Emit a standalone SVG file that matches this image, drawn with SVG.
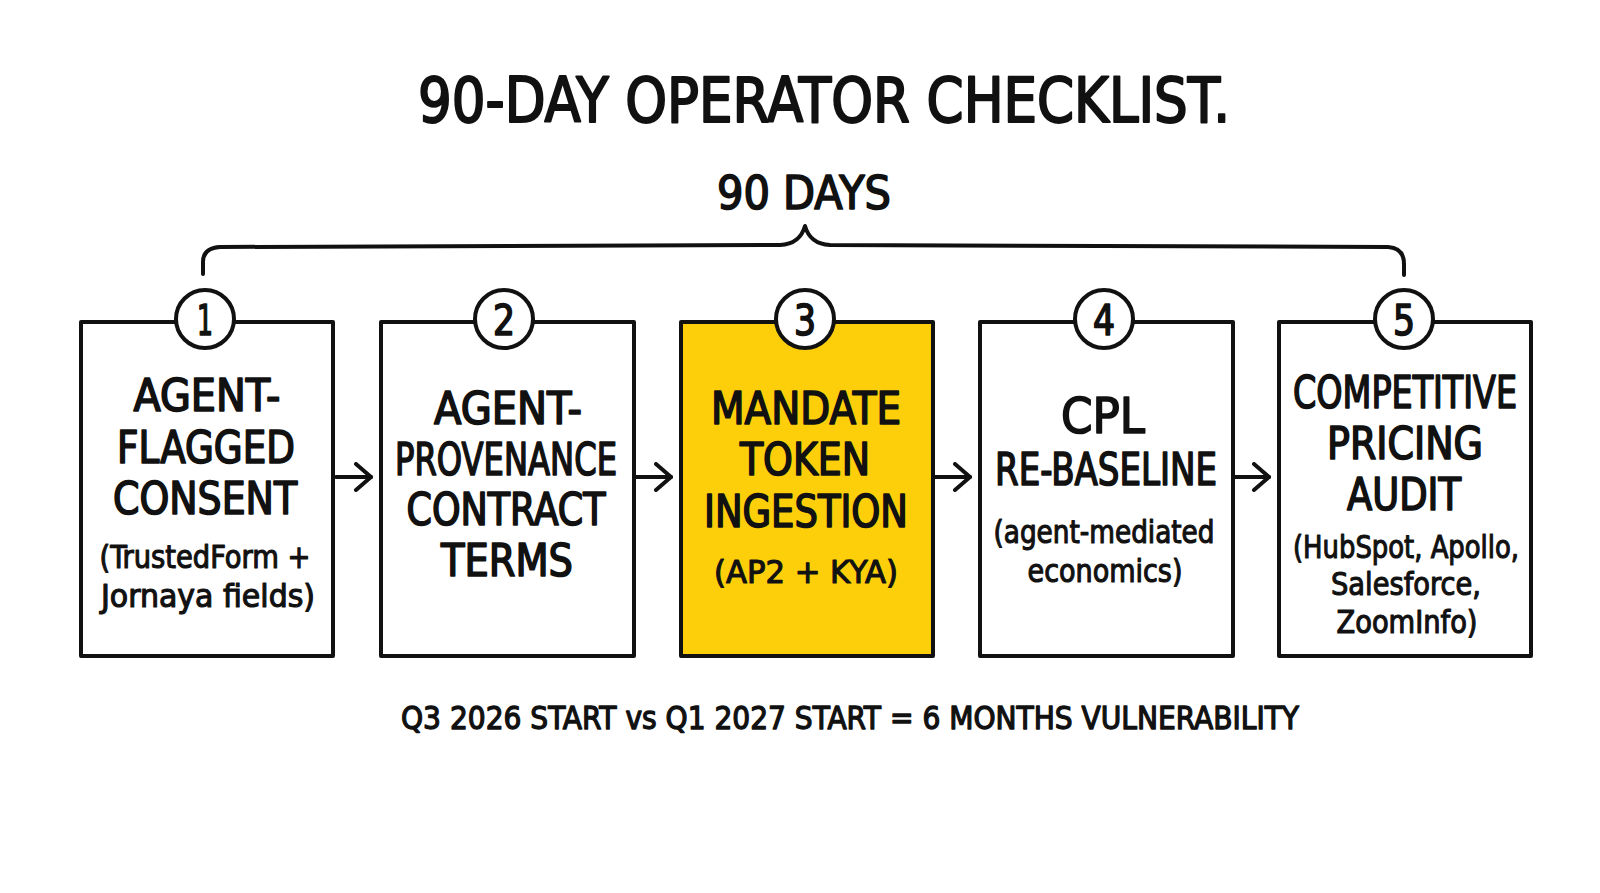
<svg xmlns="http://www.w3.org/2000/svg" width="1600" height="893" viewBox="0 0 1600 893">
<defs>
<style>
text{font-family:"Liberation Sans Narrow","DejaVu Sans Condensed","Liberation Sans",sans-serif;fill:#111;stroke:#111;stroke-width:1.3;stroke-linejoin:round;text-anchor:middle}
.title{font-size:62px;stroke-width:2}
.sub{font-size:46px;stroke-width:1.6}
.big{font-size:44px;stroke-width:1.6}
.small{font-size:32px;stroke-width:1.1}
.num{font-size:42px;stroke-width:1.6}
.note{font-size:32px;stroke-width:1.3}
.box{fill:#fff;stroke:#111;stroke-width:4;stroke-linejoin:round}
.hl{fill:#FDCF0B}
.badge{fill:#fff;stroke:#111;stroke-width:4}
.line{fill:none;stroke:#111;stroke-width:4;stroke-linecap:round;stroke-linejoin:round}
</style>
<marker id="arr" viewBox="0 0 20 30" refX="18" refY="15" markerWidth="20" markerHeight="30" markerUnits="userSpaceOnUse" orient="auto">
<path d="M3,2 L18,15 L3,28" fill="none" stroke="#111" stroke-width="4" stroke-linecap="round" stroke-linejoin="round"/>
</marker>
</defs>
<rect width="1600" height="893" fill="#fff"/>

<g id="title">
<text class="title" x="824" y="122" textLength="812" lengthAdjust="spacingAndGlyphs">90-DAY OPERATOR CHECKLIST.</text>
</g>

<g id="span">
<text class="sub" x="804" y="209" textLength="174" lengthAdjust="spacingAndGlyphs">90 DAYS</text>
<path class="line" d="M203,274 L203,262 Q203,248 220,247 L780,245 Q800,244 805,226 Q810,244 830,245 L1388,247 Q1404,248 1404,264 L1404,275"/>
</g>

<g id="connectors">
<path class="line" d="M336,477 L371,477" marker-end="url(#arr)"/>
<path class="line" d="M636,477 L671,477" marker-end="url(#arr)"/>
<path class="line" d="M935,477 L970,477" marker-end="url(#arr)"/>
<path class="line" d="M1235,477 L1269,477" marker-end="url(#arr)"/>
</g>

<g id="step1">
<rect class="box" x="81" y="322" width="252" height="334"/>
<circle class="badge" cx="205" cy="319" r="29"/>
<text class="num" x="205" y="335" textLength="16" lengthAdjust="spacingAndGlyphs">1</text>
<text class="big" x="207" y="411" textLength="147" lengthAdjust="spacingAndGlyphs">AGENT-</text>
<text class="big" x="206" y="463" textLength="178" lengthAdjust="spacingAndGlyphs">FLAGGED</text>
<text class="big" x="205" y="514" textLength="184" lengthAdjust="spacingAndGlyphs">CONSENT</text>
<text class="small" x="205" y="568" textLength="211" lengthAdjust="spacingAndGlyphs">(TrustedForm +</text>
<text class="small" x="208" y="607" textLength="214" lengthAdjust="spacingAndGlyphs">Jornaya fields)</text>
</g>

<g id="step2">
<rect class="box" x="381" y="322" width="253" height="334"/>
<circle class="badge" cx="504" cy="319" r="29"/>
<text class="num" x="504" y="335" textLength="22" lengthAdjust="spacingAndGlyphs">2</text>
<text class="big" x="508" y="424" textLength="148" lengthAdjust="spacingAndGlyphs">AGENT-</text>
<text class="big" x="506" y="475" textLength="222" lengthAdjust="spacingAndGlyphs">PROVENANCE</text>
<text class="big" x="506" y="525" textLength="199" lengthAdjust="spacingAndGlyphs">CONTRACT</text>
<text class="big" x="507" y="576" textLength="132" lengthAdjust="spacingAndGlyphs">TERMS</text>
</g>

<g id="step3">
<rect class="box hl" x="681" y="322" width="252" height="334"/>
<circle class="badge hl" cx="805" cy="319" r="29"/>
<text class="num" x="805" y="335" textLength="22" lengthAdjust="spacingAndGlyphs">3</text>
<text class="big" x="806" y="424" textLength="190" lengthAdjust="spacingAndGlyphs">MANDATE</text>
<text class="big" x="805" y="475" textLength="130" lengthAdjust="spacingAndGlyphs">TOKEN</text>
<text class="big" x="806" y="527" textLength="204" lengthAdjust="spacingAndGlyphs">INGESTION</text>
<text class="small" x="806" y="583" textLength="184" lengthAdjust="spacingAndGlyphs">(AP2 + KYA)</text>
</g>

<g id="step4">
<rect class="box" x="980" y="322" width="253" height="334"/>
<circle class="badge" cx="1104" cy="319" r="29"/>
<text class="num" x="1104" y="335" textLength="22" lengthAdjust="spacingAndGlyphs">4</text>
<text class="big" style="font-size:50px" x="1103" y="433" textLength="84" lengthAdjust="spacingAndGlyphs">CPL</text>
<text class="big" x="1106" y="485" textLength="222" lengthAdjust="spacingAndGlyphs">RE-BASELINE</text>
<text class="small" x="1104" y="543" textLength="221" lengthAdjust="spacingAndGlyphs">(agent-mediated</text>
<text class="small" x="1105" y="582" textLength="155" lengthAdjust="spacingAndGlyphs">economics)</text>
</g>

<g id="step5">
<rect class="box" x="1279" y="322" width="252" height="334"/>
<circle class="badge" cx="1404" cy="319" r="29"/>
<text class="num" x="1404" y="335" textLength="22" lengthAdjust="spacingAndGlyphs">5</text>
<text class="big" x="1405" y="408" textLength="224" lengthAdjust="spacingAndGlyphs">COMPETITIVE</text>
<text class="big" x="1405" y="459" textLength="156" lengthAdjust="spacingAndGlyphs">PRICING</text>
<text class="big" x="1404" y="510" textLength="114" lengthAdjust="spacingAndGlyphs">AUDIT</text>
<text class="small" x="1406" y="558" textLength="226" lengthAdjust="spacingAndGlyphs">(HubSpot, Apollo,</text>
<text class="small" x="1406" y="595" textLength="150" lengthAdjust="spacingAndGlyphs">Salesforce,</text>
<text class="small" x="1407" y="633" textLength="141" lengthAdjust="spacingAndGlyphs">ZoomInfo)</text>
</g>

<g id="footnote">
<text class="note" x="850" y="729" textLength="898" lengthAdjust="spacingAndGlyphs">Q3 2026 START vs Q1 2027 START = 6 MONTHS VULNERABILITY</text>
</g>
</svg>
